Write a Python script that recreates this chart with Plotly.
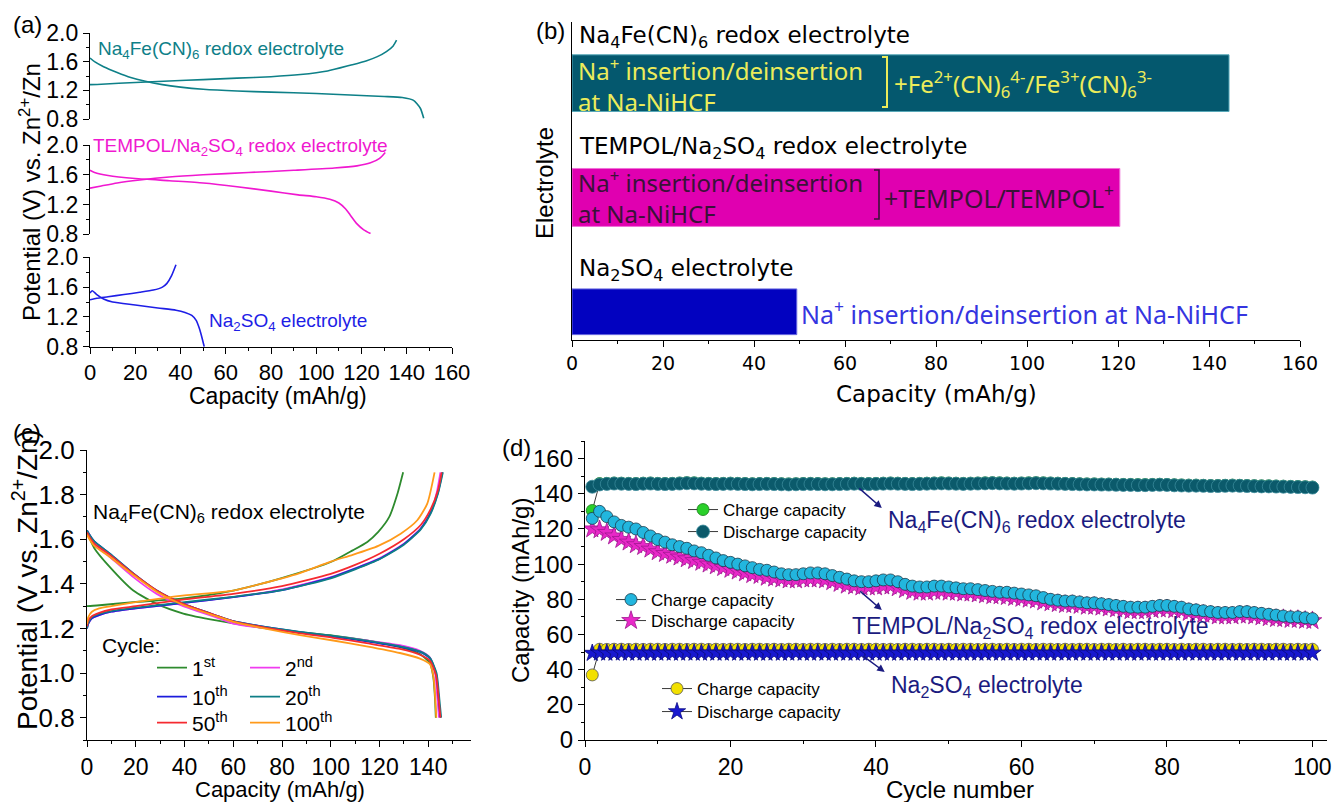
import plotly.graph_objects as go

W, H = 1333, 802
def PX(v): return v / W
def PY(v): return 1 - v / H

FONT = "Liberation Sans, Arial, sans-serif"
WFONT = "DejaVu Sans, Verdana, sans-serif"
BFONT = "Noto Sans, DejaVu Sans, sans-serif"

# ---------------- (a) charge/discharge curves ----------------
a_fe_chg_cap = [0, 5, 20, 35, 50, 65, 80, 93, 105, 115, 122, 127, 131, 134, 135.5]
a_fe_chg_v = [1.28, 1.285, 1.31, 1.33, 1.35, 1.37, 1.39, 1.42, 1.47, 1.55, 1.61, 1.67, 1.74, 1.82, 1.90]
a_fe_dis_cap = [0, 2, 6, 12, 18, 24, 32, 40, 50, 65, 80, 100, 115, 130, 138, 143, 146, 147.5]
a_fe_dis_v = [1.65, 1.60, 1.53, 1.45, 1.38, 1.33, 1.28, 1.245, 1.215, 1.19, 1.175, 1.155, 1.135, 1.115, 1.10, 1.06, 0.95, 0.81]

a_tp_chg_cap = [0, 5, 12, 22, 35, 50, 70, 90, 108, 118, 124, 128, 130.5]
a_tp_chg_v = [1.42, 1.45, 1.49, 1.53, 1.57, 1.60, 1.63, 1.66, 1.69, 1.72, 1.76, 1.82, 1.90]
a_tp_dis_cap = [0, 2, 8, 20, 35, 50, 65, 80, 92, 100, 106, 110, 113, 115, 118, 121, 124]
a_tp_dis_v = [1.66, 1.63, 1.59, 1.55, 1.52, 1.49, 1.44, 1.38, 1.33, 1.305, 1.27, 1.22, 1.14, 1.06, 0.94, 0.86, 0.81]

a_na_chg_cap = [0, 3, 8, 15, 22, 28, 32, 34, 36, 38]
a_na_chg_v = [1.43, 1.45, 1.47, 1.50, 1.53, 1.56, 1.60, 1.65, 1.75, 1.90]
a_na_dis_cap = [0, 1, 3, 6, 10, 20, 30, 38, 42, 45, 47, 48.5, 49.5, 50.5]
a_na_dis_v = [1.52, 1.55, 1.50, 1.44, 1.40, 1.36, 1.32, 1.29, 1.26, 1.22, 1.15, 1.03, 0.92, 0.80]

# ---------------- (b) capacities ----------------
b_labels = ["Na2SO4 electrolyte", "TEMPOL/Na2SO4 redox electrolyte", "Na4Fe(CN)6 redox electrolyte"]
b_caps = [49.4, 120.4, 144.4]

# ---------------- (c) cycles ----------------
c_names = ["1<sup>st</sup>", "2<sup>nd</sup>", "10<sup>th</sup>", "20<sup>th</sup>", "50<sup>th</sup>", "100<sup>th</sup>"]
c_colors = ["#2e8b2e", "#f03cf0", "#1c1cdc", "#0e7e86", "#f52a30", "#ff9a1a"]

c1_chg_cap = [0, 4, 19, 39.5, 60, 79.5, 100.5, 109, 115, 119.5, 124, 127.4, 129.7]
c1_chg_v = [1.30, 1.303, 1.318, 1.335, 1.37, 1.425, 1.50, 1.55, 1.588, 1.633, 1.70, 1.805, 1.90]
c1_dis_cap = [0, 3, 9.4, 19, 28.6, 39.5, 53, 73.7, 87.4, 101, 114.7, 128.4, 136.6, 140.7, 142.1, 142.8, 143.1]
c1_dis_v = [1.63, 1.56, 1.475, 1.37, 1.31, 1.267, 1.236, 1.20, 1.183, 1.168, 1.146, 1.116, 1.085, 1.045, 0.98, 0.88, 0.80]

c2_chg_cap = [0, 0.5, 2, 5, 10, 20, 40, 60, 80, 100, 110, 120, 130, 137, 141, 143.5, 145]
c2_chg_v = [1.20, 1.22, 1.245, 1.26, 1.275, 1.29, 1.315, 1.34, 1.375, 1.43, 1.47, 1.515, 1.58, 1.65, 1.72, 1.81, 1.90]
c2_dis_cap = [0, 1, 3, 9.4, 19, 28.6, 39.5, 53, 60, 73.7, 87.4, 101, 114.7, 128.4, 136.6, 140.7, 142.8, 143.8, 144.4]
c2_dis_v = [1.64, 1.62, 1.58, 1.52, 1.43, 1.355, 1.30, 1.25, 1.222, 1.20, 1.182, 1.165, 1.147, 1.125, 1.10, 1.07, 1.0, 0.88, 0.80]

c10_chg_cap = [0, 0.5, 2, 5, 10, 20, 40, 60, 80, 100, 110, 120, 130, 137, 141, 144, 145.8]
c10_chg_v = [1.20, 1.22, 1.245, 1.26, 1.275, 1.29, 1.315, 1.34, 1.372, 1.428, 1.468, 1.512, 1.578, 1.648, 1.72, 1.81, 1.90]
c10_dis_cap = [0, 1, 3, 9.4, 19, 28.6, 39.5, 53, 60, 73.7, 87.4, 101, 114.7, 128.4, 136.6, 140.7, 143.2, 144.3, 145]
c10_dis_v = [1.64, 1.62, 1.59, 1.535, 1.447, 1.37, 1.31, 1.258, 1.233, 1.206, 1.183, 1.164, 1.142, 1.118, 1.095, 1.065, 1.0, 0.88, 0.80]

c20_chg_cap = [0, 0.5, 2, 5, 10, 20, 40, 60, 80, 100, 110, 120, 130, 137, 141, 144, 146]
c20_chg_v = [1.20, 1.225, 1.25, 1.265, 1.278, 1.293, 1.318, 1.342, 1.372, 1.425, 1.465, 1.51, 1.575, 1.645, 1.715, 1.805, 1.90]
c20_dis_cap = [0, 1, 3, 9.4, 19, 28.6, 39.5, 53, 60, 73.7, 87.4, 101, 114.7, 128.4, 136.6, 140.7, 143.4, 144.6, 145.3]
c20_dis_v = [1.64, 1.62, 1.59, 1.535, 1.447, 1.37, 1.31, 1.258, 1.233, 1.206, 1.185, 1.167, 1.145, 1.12, 1.097, 1.068, 1.0, 0.88, 0.80]

c50_chg_cap = [0, 0.5, 2, 5, 10, 20, 40, 60, 80, 100, 110, 120, 130, 137, 141, 144, 145.5]
c50_chg_v = [1.21, 1.235, 1.255, 1.27, 1.285, 1.30, 1.33, 1.355, 1.39, 1.445, 1.485, 1.535, 1.60, 1.665, 1.735, 1.82, 1.90]
c50_dis_cap = [0, 1, 3, 9.4, 19, 28.6, 39.5, 53, 60, 73.7, 87.4, 101, 114.7, 128.4, 136.6, 140.7, 143.2, 144.3, 145]
c50_dis_v = [1.63, 1.61, 1.58, 1.53, 1.445, 1.37, 1.31, 1.258, 1.232, 1.203, 1.178, 1.158, 1.134, 1.108, 1.082, 1.055, 0.99, 0.88, 0.80]

c100_chg_cap = [0, 0.5, 2, 5, 10, 20, 40, 60, 80, 87, 100, 109, 119.5, 128.7, 135.5, 139.6, 142.6]
c100_chg_v = [1.22, 1.25, 1.275, 1.29, 1.30, 1.318, 1.348, 1.37, 1.425, 1.447, 1.50, 1.53, 1.57, 1.625, 1.685, 1.76, 1.90]
c100_dis_cap = [0, 1, 3, 9.4, 19, 28.6, 39.5, 53, 60, 73.7, 87.4, 101, 114.7, 128.4, 136.6, 140.7, 142.2, 142.9, 143.3]
c100_dis_v = [1.62, 1.60, 1.57, 1.52, 1.44, 1.365, 1.305, 1.255, 1.23, 1.198, 1.17, 1.146, 1.12, 1.09, 1.065, 1.04, 0.98, 0.88, 0.80]

# ---------------- (d) cycling ----------------
cycles = list(range(1, 101))
fe_charge = [130.5, 145.8, 145.9, 146.1, 146.0, 145.9, 145.8, 146.0, 146.1, 145.9,
             145.8, 145.9, 146.1, 146.3, 146.2, 146.0, 145.9, 145.8, 145.9, 146.0,
             145.9, 145.8, 145.7, 145.8, 145.9, 145.8, 145.7, 145.6, 145.7, 145.8,
             145.9, 145.8, 145.7, 145.7, 145.8, 145.9, 146.0, 145.9, 145.8, 145.9,
             146.0, 146.1, 146.0, 145.9, 145.8, 145.9, 146.0, 146.1, 146.2, 146.1,
             146.0, 145.9, 146.0, 146.1, 146.2, 146.3, 146.2, 146.1, 146.0, 146.1,
             146.2, 146.3, 146.2, 146.1, 146.0, 145.9, 145.8, 145.7, 145.6, 145.6,
             145.5, 145.5, 145.4, 145.3, 145.3, 145.2, 145.2, 145.3, 145.4, 145.3,
             145.1, 145.0, 144.9, 144.9, 144.8, 144.7, 144.7, 144.8, 144.9, 144.8,
             144.7, 144.6, 144.5, 144.5, 144.4, 144.3, 144.2, 144.1, 144.0, 143.8]
fe_discharge = [144.0, 145.3, 145.6, 145.8, 145.7, 145.6, 145.5, 145.7, 145.8, 145.6,
                145.5, 145.6, 145.8, 146.0, 145.9, 145.7, 145.6, 145.5, 145.6, 145.7,
                145.6, 145.5, 145.4, 145.5, 145.6, 145.5, 145.4, 145.3, 145.4, 145.5,
                145.6, 145.5, 145.4, 145.4, 145.5, 145.6, 145.7, 145.6, 145.5, 145.6,
                145.7, 145.8, 145.7, 145.6, 145.5, 145.6, 145.7, 145.8, 145.9, 145.8,
                145.7, 145.6, 145.7, 145.8, 145.9, 146.0, 145.9, 145.8, 145.7, 145.8,
                145.9, 146.0, 145.9, 145.8, 145.7, 145.6, 145.5, 145.4, 145.3, 145.3,
                145.2, 145.2, 145.1, 145.0, 145.0, 144.9, 144.9, 145.0, 145.1, 145.0,
                144.8, 144.7, 144.6, 144.6, 144.5, 144.4, 144.4, 144.5, 144.6, 144.5,
                144.4, 144.3, 144.2, 144.2, 144.1, 144.0, 143.9, 143.8, 143.7, 143.5]
tp_charge = [126.0, 130.0, 127.0, 124.0, 122.0, 121.0, 120.0, 118.0, 116.0, 114.0,
             112.5, 111.0, 110.0, 109.0, 107.5, 106.5, 105.0, 103.5, 102.0, 101.0,
             100.0, 99.0, 98.0, 97.0, 96.5, 95.5, 94.5, 94.0, 94.0, 94.5,
             95.0, 95.0, 94.5, 93.5, 92.5, 91.5, 90.5, 90.0, 90.0, 90.5,
             91.0, 91.0, 90.0, 88.5, 87.5, 87.0, 87.0, 87.5, 87.5, 87.0,
             86.5, 86.0, 86.0, 85.5, 85.0, 84.5, 84.0, 84.0, 83.5, 83.0,
             82.5, 82.0, 81.0, 80.0, 79.5, 79.0, 79.0, 78.5, 78.0, 78.0,
             77.5, 77.0, 76.5, 76.0, 75.5, 75.5, 75.5, 76.0, 76.5, 76.5,
             76.0, 75.5, 74.5, 74.0, 73.5, 73.0, 72.5, 72.5, 72.5, 73.0,
             73.0, 72.5, 72.0, 71.5, 71.0, 70.5, 70.0, 70.0, 69.5, 69.0]
tp_discharge = [120.0, 119.5, 118.0, 116.0, 114.0, 112.5, 111.0, 110.0, 108.5, 107.0,
                106.0, 105.0, 104.0, 103.0, 102.0, 101.0, 100.0, 99.0, 98.0, 97.0,
                96.0, 95.0, 94.0, 93.5, 92.5, 92.0, 91.5, 91.0, 91.0, 91.5,
                91.5, 91.5, 91.0, 90.0, 89.0, 88.0, 87.5, 87.0, 87.0, 87.0,
                87.5, 87.5, 86.5, 85.5, 84.5, 84.0, 84.0, 84.5, 84.5, 84.0,
                84.0, 83.5, 83.5, 83.0, 82.5, 82.0, 82.0, 81.5, 81.0, 80.5,
                80.0, 79.5, 78.5, 78.0, 77.5, 77.0, 77.0, 76.5, 76.0, 76.0,
                75.5, 75.0, 74.5, 74.0, 73.5, 73.5, 73.5, 74.0, 74.5, 74.5,
                74.0, 73.5, 72.5, 72.0, 71.5, 71.0, 70.5, 70.5, 70.5, 71.0,
                71.0, 70.5, 70.0, 69.5, 69.0, 69.0, 68.5, 68.5, 68.0, 67.8]
na_charge = [37.0, 51.6, 51.5, 51.6, 51.6, 51.5, 51.6, 51.5, 51.6, 51.6,
             51.5, 51.6, 51.6, 51.5, 51.6, 51.6, 51.5, 51.6, 51.5, 51.6,
             51.6, 51.5, 51.6, 51.6, 51.5, 51.6, 51.5, 51.6, 51.6, 51.5,
             51.6, 51.6, 51.5, 51.6, 51.5, 51.6, 51.6, 51.5, 51.6, 51.6,
             51.5, 51.6, 51.5, 51.6, 51.6, 51.5, 51.6, 51.6, 51.5, 51.6,
             51.5, 51.6, 51.6, 51.5, 51.6, 51.6, 51.5, 51.6, 51.5, 51.6,
             51.6, 51.5, 51.6, 51.6, 51.5, 51.6, 51.5, 51.6, 51.6, 51.5,
             51.6, 51.6, 51.5, 51.6, 51.5, 51.6, 51.6, 51.5, 51.6, 51.6,
             51.5, 51.6, 51.5, 51.6, 51.6, 51.5, 51.6, 51.6, 51.5, 51.6,
             51.5, 51.6, 51.6, 51.5, 51.6, 51.6, 51.5, 51.6, 51.5, 51.6]
na_discharge = [49.4, 49.6, 49.5, 49.5, 49.6, 49.5, 49.5, 49.6, 49.5, 49.5,
                49.6, 49.5, 49.5, 49.6, 49.5, 49.5, 49.6, 49.5, 49.5, 49.6,
                49.5, 49.5, 49.6, 49.5, 49.5, 49.6, 49.5, 49.5, 49.6, 49.5,
                49.5, 49.6, 49.5, 49.5, 49.6, 49.5, 49.5, 49.6, 49.5, 49.5,
                49.6, 49.5, 49.5, 49.6, 49.5, 49.5, 49.6, 49.5, 49.5, 49.6,
                49.5, 49.5, 49.6, 49.5, 49.5, 49.6, 49.5, 49.5, 49.6, 49.5,
                49.5, 49.6, 49.5, 49.5, 49.6, 49.5, 49.5, 49.6, 49.5, 49.5,
                49.6, 49.5, 49.5, 49.6, 49.5, 49.5, 49.6, 49.5, 49.5, 49.6,
                49.5, 49.5, 49.6, 49.5, 49.5, 49.6, 49.5, 49.5, 49.6, 49.5,
                49.5, 49.6, 49.5, 49.5, 49.6, 49.5, 49.5, 49.6, 49.5, 49.5]

fig = go.Figure()

def seg(c1, v1, c2, v2):
    return list(c1) + [None] + list(c2), list(v1) + [None] + list(v2)

# ---------- (a) ----------
for (cc, cv, dc, dv, col, xa, ya) in [
    (a_na_chg_cap, a_na_chg_v, a_na_dis_cap, a_na_dis_v, "#1e1ee6", "x", "y"),
    (a_tp_chg_cap, a_tp_chg_v, a_tp_dis_cap, a_tp_dis_v, "#f018d0", "x2", "y2"),
    (a_fe_chg_cap, a_fe_chg_v, a_fe_dis_cap, a_fe_dis_v, "#0e8088", "x3", "y3"),
]:
    xs, ys = seg(cc, cv, dc, dv)
    fig.add_trace(go.Scatter(x=xs, y=ys, mode="lines", xaxis=xa, yaxis=ya,
                             line=dict(color=col, width=1.6, shape="spline", smoothing=0.6),
                             showlegend=False, hoverinfo="skip"))

# ---------- (b) ----------
fig.add_trace(go.Bar(x=b_caps, y=b_labels, orientation="h", xaxis="x4", yaxis="y4",
                     width=[0.40, 0.507, 0.496],
                     marker=dict(color=["#0202c0", "#e000b0", "#04586e"],
                                 line=dict(color=["#6a6ae0", "#f070d8", "#58a8b8"], width=1)),
                     showlegend=False, hoverinfo="skip"))

# ---------- (c) ----------
c_sets = [(c1_chg_cap, c1_chg_v, c1_dis_cap, c1_dis_v),
          (c2_chg_cap, c2_chg_v, c2_dis_cap, c2_dis_v),
          (c10_chg_cap, c10_chg_v, c10_dis_cap, c10_dis_v),
          (c20_chg_cap, c20_chg_v, c20_dis_cap, c20_dis_v),
          (c50_chg_cap, c50_chg_v, c50_dis_cap, c50_dis_v),
          (c100_chg_cap, c100_chg_v, c100_dis_cap, c100_dis_v)]
c_legends = ["legend", "legend", "legend2", "legend2", "legend3", "legend3"]
for i, (cc, cv, dc, dv) in enumerate(c_sets):
    xs, ys = seg(cc, cv, dc, dv)
    fig.add_trace(go.Scatter(x=xs, y=ys, mode="lines", xaxis="x5", yaxis="y5",
                             name=c_names[i], legend=c_legends[i],
                             line=dict(color=c_colors[i], width=1.8, shape="spline", smoothing=0.6),
                             hoverinfo="skip"))

# ---------- (d) ----------
lc = "#3a3a3a"
d_traces = [
    (fe_charge, "Charge capacity", "legend4", "circle", 12, "#2ad02a", "#1a7a1a"),
    (fe_discharge, "Discharge capacity", "legend5", "circle", 13, "#0b5a6b", "#3a8a9a"),
    (tp_discharge, "Discharge capacity", "legend7", "star", 14, "#e828c8", "#a01890"),
    (tp_charge, "Charge capacity", "legend6", "circle", 12, "#22b6de", "#1c3c4c"),
    (na_charge, "Charge capacity", "legend8", "circle", 12, "#f2e000", "#555555"),
    (na_discharge, "Discharge capacity", "legend9", "star", 13, "#1818d0", "#0a0a80"),
]
for (vals, nm, lg, sym, sz, fc, lcol) in d_traces:
    fig.add_trace(go.Scatter(x=cycles, y=vals, mode="lines+markers", xaxis="x6", yaxis="y6",
                             name=nm, legend=lg,
                             line=dict(color=lc, width=1),
                             marker=dict(symbol=sym, size=sz, color=fc, line=dict(color=lcol, width=0.8)),
                             hoverinfo="skip"))

# ---------- axes ----------
MINOR = dict(ticklen=3, tickwidth=1.2, tickcolor="black")

def ax_style(**kw):
    d = dict(showline=True, linecolor="black", linewidth=1.3, ticks="outside", ticklen=6,
             tickwidth=1.3, tickcolor="black", showgrid=False, zeroline=False, mirror=False,
             automargin=False, tickfont=dict(family=FONT, size=21, color="black"))
    d.update(kw)
    return d

a_xdom = [PX(90), PX(452)]
a_ydoms = [[PY(346.7), PY(257.3)], [PY(234.3), PY(145)], [PY(119), PY(33)]]
a_yax = dict(range=[0.8, 2.0], tickvals=[0.8, 1.2, 1.6, 2.0], ticktext=["0.8", "1.2", "1.6", "2.0"],
             minor=dict(tickvals=[1.0, 1.4, 1.8], **MINOR),
             tickfont=dict(family=FONT, size=23, color="black"))

fig.update_layout(
    xaxis=ax_style(domain=a_xdom, anchor="y", range=[0, 160], dtick=20,
                   minor=dict(dtick=10, **MINOR), tickfont=dict(family=FONT, size=22, color="black")),
    yaxis=ax_style(domain=a_ydoms[0], anchor="x", **a_yax),
    xaxis2=dict(domain=a_xdom, anchor="y2", range=[0, 160], visible=False),
    yaxis2=ax_style(domain=a_ydoms[1], anchor="x2", **a_yax),
    xaxis3=dict(domain=a_xdom, anchor="y3", range=[0, 160], visible=False),
    yaxis3=ax_style(domain=a_ydoms[2], anchor="x3", **a_yax),
    xaxis4=ax_style(domain=[PX(572), PX(1300)], anchor="y4", range=[0, 160], dtick=20,
                    minor=dict(dtick=10, **MINOR), tickfont=dict(family=WFONT, size=19, color="black")),
    yaxis4=ax_style(domain=[PY(340), PY(22)], anchor="x4", type="category",
                    categoryorder="array", categoryarray=b_labels,
                    range=[-0.247, 2.535], showticklabels=False, ticks=""),
    xaxis5=ax_style(domain=[PX(87), PX(470.9)], anchor="y5", range=[0, 157.5], dtick=20,
                    minor=dict(dtick=10, **MINOR), tickfont=dict(family=FONT, size=23, color="black")),
    yaxis5=ax_style(domain=[PY(740), PY(450)], anchor="x5", range=[0.7, 2.0],
                    tickvals=[0.8, 1.0, 1.2, 1.4, 1.6, 1.8, 2.0], tickformat=".1f",
                    minor=dict(dtick=0.1, tick0=0.7, **MINOR),
                    tickfont=dict(family=FONT, size=26, color="black")),
    xaxis6=ax_style(domain=[PX(585), PX(1327)], anchor="y6", range=[0, 102], dtick=20,
                    minor=dict(dtick=10, **MINOR), tickfont=dict(family=FONT, size=23, color="black")),
    yaxis6=ax_style(domain=[PY(740), PY(441)], anchor="x6", range=[0, 170], dtick=20,
                    minor=dict(dtick=10, **MINOR), tickfont=dict(family=FONT, size=24, color="black")),
)

# ---------- legends ----------
def c_leg(y):
    return dict(x=PX(152), y=PY(y), xanchor="left", yanchor="middle", orientation="h",
                entrywidth=48, entrywidthmode="pixels", bgcolor="rgba(0,0,0,0)",
                font=dict(family=FONT, size=21, color="black"), itemwidth=30,
                traceorder="normal")

def d_leg(x, y):
    return dict(x=PX(x), y=PY(y), xanchor="left", yanchor="middle", orientation="v",
                bgcolor="rgba(0,0,0,0)", font=dict(family=FONT, size=17, color="black"),
                itemwidth=30, traceorder="normal")

fig.update_layout(
    legend=c_leg(668), legend2=c_leg(697), legend3=c_leg(723),
    legend4=d_leg(683, 510), legend5=d_leg(683, 532),
    legend6=d_leg(611, 600), legend7=d_leg(611, 621),
    legend8=d_leg(657, 689), legend9=d_leg(657, 712),
)

# ---------- annotations ----------
ann = []
def T(text, x, y, size, color="black", family=FONT, xanchor="center", angle=0):
    ann.append(dict(text=text, x=PX(x), y=PY(y), xref="paper", yref="paper", showarrow=False,
                    xanchor=xanchor, yanchor="middle", textangle=angle, align="left",
                    font=dict(family=family, size=size, color=color)))

T("(a)", 27, 24, 24)
T("(b)", 550, 30, 24)
T("(c)", 27, 433, 24)
T("(d)", 516, 447, 24)

# (a)
T("Na<sub>4</sub>Fe(CN)<sub>6</sub> redox electrolyte", 96, 50, 19, "#0e8088", xanchor="left")
T("TEMPOL/Na<sub>2</sub>SO<sub>4</sub> redox electrolyte", 91, 147, 19, "#f018d0", xanchor="left")
T("Na<sub>2</sub>SO<sub>4</sub> electrolyte", 207, 322, 19, "#1e1ee6", xanchor="left")
T("Potential (V) vs. Zn<sup>2+</sup>/Zn", 30, 192, 24, angle=-90)
T("Capacity (mAh/g)", 278, 396, 23)

# (b)
T("Na<sub>4</sub>Fe(CN)<sub>6</sub> redox electrolyte", 577, 37, 23, family=WFONT, xanchor="left")
T("TEMPOL/Na<sub>2</sub>SO<sub>4</sub> redox electrolyte", 577, 148, 23, family=WFONT, xanchor="left")
T("Na<sub>2</sub>SO<sub>4</sub> electrolyte", 577, 270, 23, family=WFONT, xanchor="left")
T("Na<sup>+</sup> insertion/deinsertion<br>at Na-NiHCF", 576, 85, 24, "#ecec5a", BFONT, xanchor="left")
T("+Fe<sup>2+</sup>(CN)<sub>6</sub><sup>4-</sup>/Fe<sup>3+</sup>(CN)<sub>6</sub><sup>3-</sup>", 892, 84, 24,
  "#ecec5a", BFONT, xanchor="left")
T("Na<sup>+</sup> insertion/deinsertion<br>at Na-NiHCF", 576, 197, 24, "#3a1238", BFONT, xanchor="left")
T("+TEMPOL/TEMPOL<sup>+</sup>", 882, 197, 25, "#3a1238", BFONT, xanchor="left")
T("Na<sup>+</sup> insertion/deinsertion at Na-NiHCF", 799, 313, 25, "#3535e0", BFONT, xanchor="left")
T("Electrolyte", 545, 183, 24, angle=-90)
T("Capacity (mAh/g)", 936, 394, 23, family=WFONT)

# (c)
T("Na<sub>4</sub>Fe(CN)<sub>6</sub> redox electrolyte", 91, 513, 21, xanchor="left")
T("Cycle:", 100, 645, 21, xanchor="left")
T("Potential (V vs. Zn<sup>2+</sup>/Zn)", 25, 580, 28, angle=-90)
T("Capacity (mAh/g)", 280, 789, 22)

# (d)
navy = "#1b1b80"
T("Na<sub>4</sub>Fe(CN)<sub>6</sub> redox electrolyte", 886, 521, 23, navy, xanchor="left")
T("TEMPOL/Na<sub>2</sub>SO<sub>4</sub> redox electrolyte", 850, 627, 23, navy, xanchor="left")
T("Na<sub>2</sub>SO<sub>4</sub> electrolyte", 889, 686, 23, navy, xanchor="left")
T("Capacity (mAh/g)", 520, 591, 24, angle=-90)
T("Cycle number", 960, 789, 24)

for (hx, hy, axp, ayp) in [(40.8, 131.9, -24, -21), (40.8, 73.9, -23, -20), (41.2, 38.7, -23, -17)]:
    ann.append(dict(x=hx, y=hy, xref="x6", yref="y6", text="", showarrow=True,
                    ax=axp, ay=ayp, arrowhead=2, arrowsize=1, arrowwidth=1.5, arrowcolor=navy))

fig.update_layout(annotations=ann)

def bracket(x, y0, y1, color, w):
    return dict(type="path", xref="paper", yref="paper",
                path=f"M {PX(x-5)} {PY(y0)} L {PX(x)} {PY(y0)} L {PX(x)} {PY(y1)} L {PX(x-5)} {PY(y1)}",
                line=dict(color=color, width=w))
fig.update_layout(shapes=[bracket(887, 57, 107, "#ecec5a", 2), bracket(879, 170, 219, "#3a1238", 1.6)])

fig.update_layout(width=W, height=H, margin=dict(l=0, r=0, t=0, b=0, pad=0, autoexpand=False),
                  paper_bgcolor="white", plot_bgcolor="white",
                  font=dict(family=FONT, color="black"), showlegend=True, autosize=False)

fig.write_html("out.html", config={"displayModeBar": False},
               post_script="document.body.style.margin='0';document.body.style.overflow='hidden';")
